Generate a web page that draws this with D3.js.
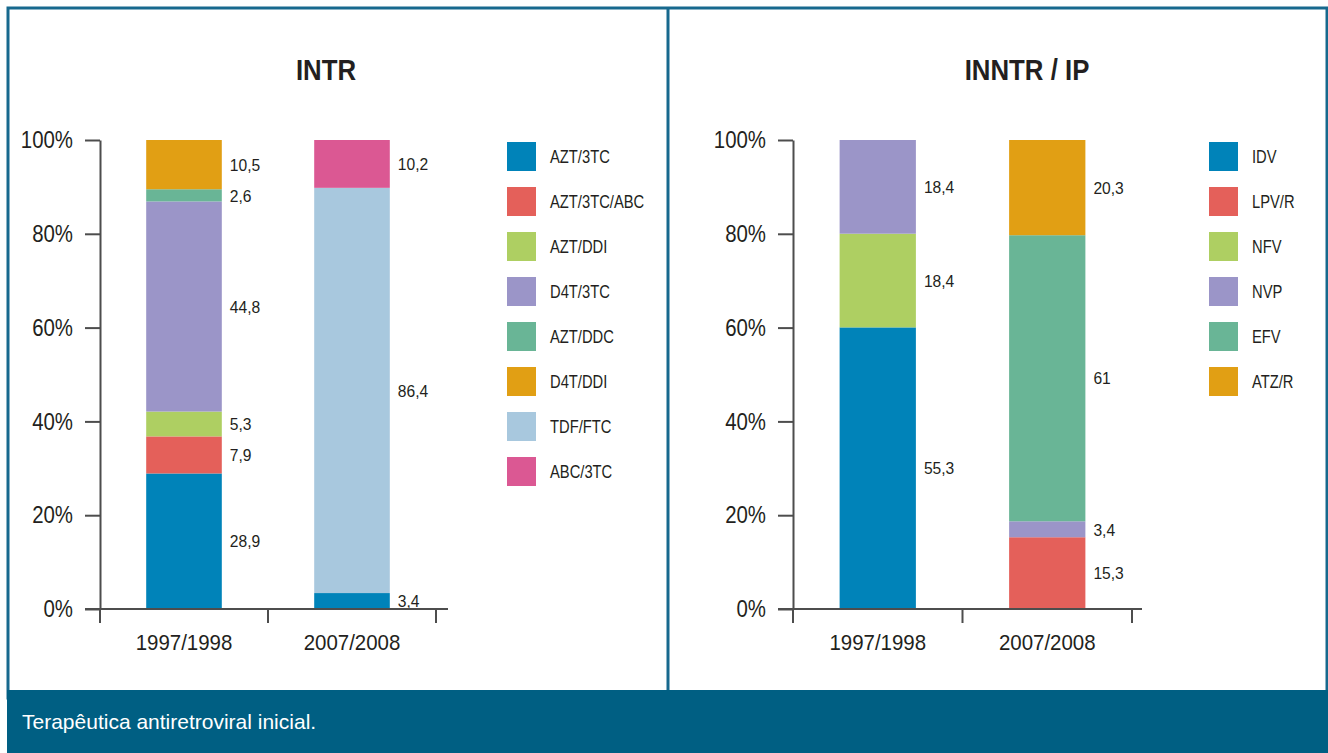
<!DOCTYPE html>
<html>
<head>
<meta charset="utf-8">
<script src="https://cdn.jsdelivr.net/npm/d3@7"></script>
<style>
  body { margin: 0; background: #ffffff; }
  svg text { font-family: "Liberation Sans", Arial, sans-serif; fill: #231f20; }
</style>
</head>
<body>
<svg id="chart" width="1328" height="753"></svg>
<script>
// periods shown on both panels
var categories = ["1997/1998", "2007/2008"];
var yTicks = [0, 20, 40, 60, 80, 100];

// INTR panel
var intrSeries = ["AZT/3TC", "AZT/3TC/ABC", "AZT/DDI", "D4T/3TC", "AZT/DDC", "D4T/DDI", "TDF/FTC", "ABC/3TC"];
var intr1997 = [28.9, 7.9, 5.3, 44.8, 2.6, 10.5, 0, 0];
var intr2007 = [3.4, 0, 0, 0, 0, 0, 86.4, 10.2];
var intrColors = ["#0083b9", "#e4605a", "#aecf62", "#9b95c8", "#69b596", "#e19f14", "#a8c8de", "#db5893"];

// INNTR / IP panel
var inntrSeries = ["IDV", "LPV/R", "NFV", "NVP", "EFV", "ATZ/R"];
var inntr1997 = [55.3, 0, 18.4, 18.4, 0, 0];
var inntr2007 = [0, 15.3, 0, 3.4, 61, 20.3];
var inntrColors = ["#0083b9", "#e4605a", "#aecf62", "#9b95c8", "#69b596", "#e19f14"];

var svg = d3.select("svg#chart");
var axisColor = "#4d4d4d";

// no condensed face installed: squeeze the text horizontally instead
function squeeze(sel, k) {
    sel.each(function () {
        var t = d3.select(this);
        var tx = +t.attr("x") || 0, ty = +t.attr("y") || 0;
        t.attr("x", 0).attr("y", 0)
         .attr("transform", "translate(" + tx + "," + ty + ") scale(" + k + ",1)");
    });
}

// frame
svg.append("rect").attr("x", 0).attr("y", 0).attr("width", 1328).attr("height", 753).attr("fill", "#ffffff");
svg.append("rect").attr("x", 8).attr("y", 8).attr("width", 1319).attr("height", 690)
    .attr("fill", "none").attr("stroke", "#17698e").attr("stroke-width", 3);
svg.append("line").attr("x1", 668).attr("x2", 668).attr("y1", 8).attr("y2", 690)
    .attr("stroke", "#17698e").attr("stroke-width", 3);
svg.append("rect").attr("x", 7).attr("y", 690).attr("width", 1321).attr("height", 63).attr("fill", "#005f83");
svg.append("text").attr("x", 22).attr("y", 729).text("Terapêutica antiretroviral inicial.")
    .style("fill", "#ffffff").style("font-size", "21px");

function fmt(v) { return String(v).replace(".", ","); }

function drawPanel(p) {
    var g = svg.append("g");
    var rows = categories.map(function (c, i) {
        var r = { cat: c };
        p.series.forEach(function (s, j) { r[s] = p.values[i][j]; });
        return r;
    });
    // bars are drawn as shares of 100%
    var stacked = d3.stack().keys(p.series).offset(d3.stackOffsetExpand)(rows);

    var x = d3.scaleBand().domain(categories).range([p.axisX, p.axisEnd]).padding(0);
    var y = d3.scaleLinear().domain([0, 1]).range([609, 140]);
    var barW = x.bandwidth() * 0.45;
    var color = d3.scaleOrdinal().domain(p.series).range(p.colors);

    // title
    g.append("text").attr("x", p.titleX).attr("y", 80).attr("text-anchor", "middle")
        .style("font-size", "30px").style("font-weight", "bold").text(p.title)
        .call(squeeze, 0.86);

    // bars
    var layers = g.selectAll("g.layer").data(stacked).join("g").attr("class", "layer")
        .attr("fill", function (d) { return color(d.key); });
    layers.selectAll("rect").data(function (d) { return d.filter(function (e) { return e[1] > e[0]; }); })
        .join("rect")
        .attr("x", function (d) { return x(d.data.cat) + (x.bandwidth() - barW) / 2; })
        .attr("width", barW)
        .attr("y", function (d) { return y(d[1]); })
        .attr("height", function (d) { return y(d[0]) - y(d[1]); });

    // value labels
    stacked.forEach(function (layer) {
        layer.forEach(function (d) {
            var v = d.data[layer.key];
            if (!(v > 0)) return;
            g.append("text")
                .attr("x", x(d.data.cat) + (x.bandwidth() + barW) / 2 + 8)
                .attr("y", (y(d[0]) + y(d[1])) / 2)
                .attr("dominant-baseline", "central")
                .style("font-size", "17px")
                .text(fmt(v))
                .call(squeeze, 0.92);
        });
    });

    // y axis
    var yAxis = g.append("g").attr("transform", "translate(" + p.axisX + ",0)")
        .call(d3.axisLeft(y).tickValues(yTicks.map(function (t) { return t / 100; }))
            .tickFormat(function (d) { return Math.round(d * 100) + "%"; })
            .tickSize(15).tickSizeOuter(0).tickPadding(12));
    yAxis.selectAll("path, line").attr("stroke", axisColor).attr("stroke-width", 2);
    yAxis.selectAll("text").attr("fill", null).style("font-size", "24px").style("font-family", null)
        .call(squeeze, 0.85);

    // x axis line and band edges
    g.append("line").attr("x1", p.axisX - 15).attr("x2", p.lineEnd).attr("y1", 609).attr("y2", 609)
        .attr("stroke", axisColor).attr("stroke-width", 2);
    var edges = categories.map(function (c) { return x(c); }).concat([x(categories[categories.length - 1]) + x.bandwidth()]);
    g.selectAll("line.edge").data(edges).join("line").attr("class", "edge")
        .attr("x1", function (d) { return d; }).attr("x2", function (d) { return d; })
        .attr("y1", 609).attr("y2", 623).attr("stroke", axisColor).attr("stroke-width", 2);
    g.selectAll("text.cat").data(categories).join("text").attr("class", "cat")
        .attr("x", function (d) { return x(d) + x.bandwidth() / 2; })
        .attr("y", 650).attr("text-anchor", "middle").style("font-size", "22px")
        .text(function (d) { return d; })
        .call(squeeze, 0.93);

    // legend
    var leg = g.selectAll("g.leg").data(p.series).join("g").attr("class", "leg")
        .attr("transform", function (d, i) { return "translate(" + p.legendX + "," + (142 + i * 45) + ")"; });
    leg.append("rect").attr("width", 29).attr("height", 29).attr("fill", function (d) { return color(d); });
    leg.append("text").attr("x", 43).attr("y", 14.5).attr("dominant-baseline", "central")
        .style("font-size", "18px").text(function (d) { return d; })
        .call(squeeze, 0.82);
}

drawPanel({ title: "INTR", titleX: 326, series: intrSeries, values: [intr1997, intr2007], colors: intrColors,
            axisX: 100, axisEnd: 436, lineEnd: 448, legendX: 507 });
drawPanel({ title: "INNTR / IP", titleX: 1027, series: inntrSeries, values: [inntr1997, inntr2007], colors: inntrColors,
            axisX: 793, axisEnd: 1132, lineEnd: 1142, legendX: 1209 });
</script>
</body>
</html>
